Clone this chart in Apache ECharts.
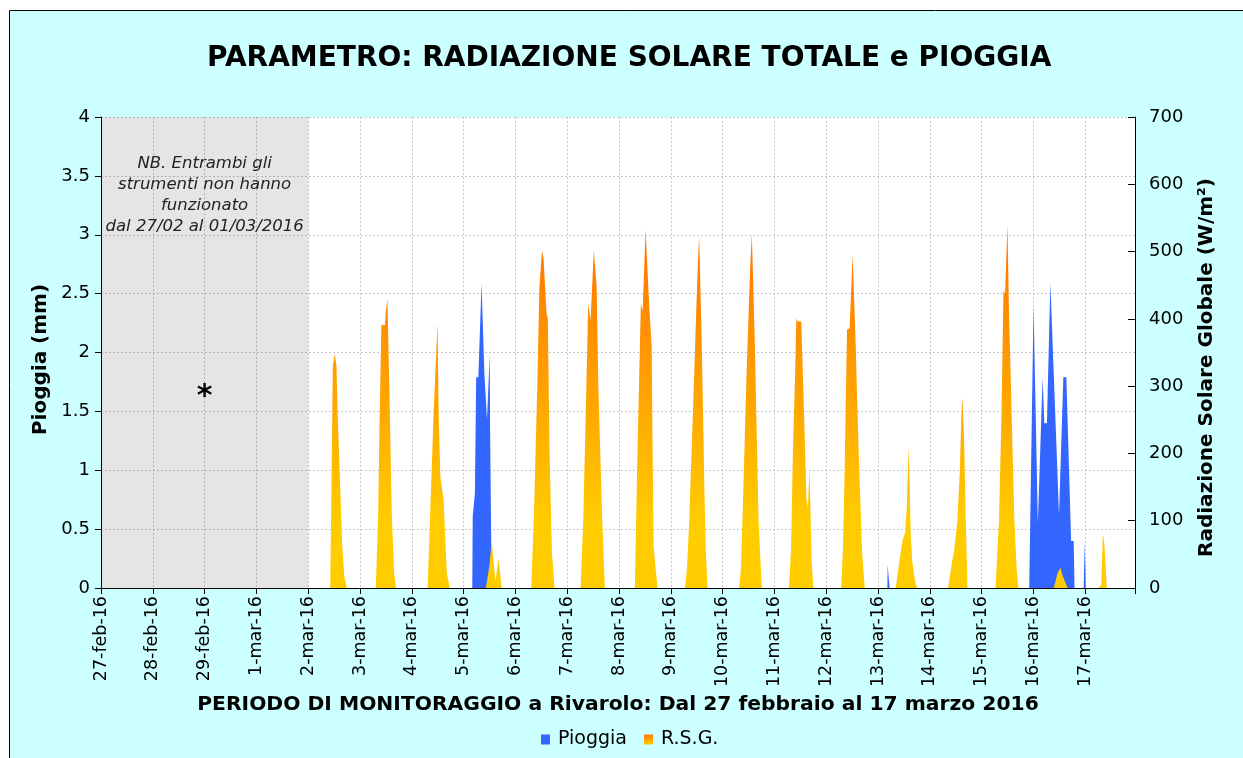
<!DOCTYPE html>
<html><head><meta charset="utf-8">
<script src="https://cdn.jsdelivr.net/npm/echarts@6/dist/echarts.min.js"></script>
<style>html,body{margin:0;padding:0;background:#fff;} #c{width:1243px;height:758px;}</style>
</head><body><div id="c"></div><script>
const tickLabels = ['27-feb-16','28-feb-16','29-feb-16','1-mar-16','2-mar-16','3-mar-16','4-mar-16','5-mar-16','6-mar-16','7-mar-16','8-mar-16','9-mar-16','10-mar-16','11-mar-16','12-mar-16','13-mar-16','14-mar-16','15-mar-16','16-mar-16','17-mar-16'];

// R.S.G. (W/m2): per day, hour of day and value
const rsgDays = ['2-mar-16','3-mar-16','4-mar-16','5-mar-16','6-mar-16','7-mar-16','8-mar-16','9-mar-16','10-mar-16','11-mar-16','12-mar-16','13-mar-16','14-mar-16','15-mar-16','16-mar-16','17-mar-16'];
const rsgHours = [
  [10.2,11.4,12.3,13.1,13.6,14.7,15.8,16.7,17.9],
  [7.3,8.4,9.1,9.9,11.5,11.9,12.7,13.8,14.7,15.8,16.7],
  [7.3,8.5,10.1,10.7,11.9,12.4,13.2,14.7,16.2,17.6],
  [10.3,12.0,13.0,14.7,16.2,17.6],
  [7.3,8.5,10.1,11.1,12.3,13.0,14.4,15.0,15.8,16.9,18.1],
  [6.2,7.4,8.5,9.7,10.2,10.8,12.3,13.6,14.4,16.2,17.4],
  [7.3,8.5,10.1,10.9,12.3,13.2,13.9,15.1,15.4,16.0,17.8],
  [6.5,7.5,8.5,10.1,11.6,12.7,13.1,14.4,15.5,16.2,17.0],
  [7.6,8.5,9.6,11.1,12.7,13.5,15.0,16.6,18.1],
  [6.7,7.7,8.5,9.6,10.1,10.6,12.4,13.6,14.8,15.5,16.2,17.2,18.0],
  [6.9,7.7,8.4,9.6,10.8,12.2,13.5,15.0,16.6,17.8],
  [8.2,9.3,11.3,12.5,13.3,14.1,14.6,15.1,15.8,17.0,18.0],
  [8.4,10.4,11.2,12.7,13.8,14.7,15.0,15.8,16.6,17.4],
  [6.4,8.0,9.1,10.1,10.8,11.9,12.7,13.3,15.1,16.2,17.0],
  [9.3,10.1,11.1,12.4,13.6,15.8],
  [6.2,7.4,8.1,8.8,9.5,9.9]
];
const rsgValues = [
  [0,330,348,329,260,160,61,17,0],
  [0,111,260,391,391,410,429,260,111,22,0],
  [0,111,262,262,393,262,165,131,22,0],
  [0,35,69,10,44,0],
  [0,101,299,448,501,490,408,400,200,52,0],
  [0,101,250,423,423,398,502,448,299,101,0],
  [0,200,423,411,533,470,423,359,250,61,0],
  [0,30,101,250,398,498,522,349,151,52,0],
  [0,30,151,324,473,527,349,101,0],
  [0,60,200,324,401,396,396,270,131,120,178,40,0],
  [0,60,160,384,386,495,373,200,52,0],
  [0,27,71,82,121,210,150,80,40,12,0],
  [0,42,55,100,171,269,284,225,101,0],
  [0,101,250,443,437,539,398,330,101,27,0],
  [0,9,22,30,17,0],
  [0,5,81,66,27,0]
];

// Pioggia (mm): per day, hour of day and value
const rainDays = ['5-mar-16','13-mar-16','16-mar-16'];
const rainHours = [
  [4.0,4.2,5.2,5.8,6.8,8.3,9.6,10.8,11.1,12.1,12.2,12.9,13.0],
  [4.3,4.4,5.2,5.3],
  [-2.0,0,0.9,2.0,4.2,5.0,6.2,7.8,11.8,13.8,15.2,17.4,18.6,19.0,23.2,23.7,24.2]
];
const rainValues = [
  [0,0.61,0.80,1.79,1.79,2.59,1.82,1.43,1.43,1.99,1.43,1.43,0],
  [0,0.2,0.2,0],
  [0,2.4,2.4,0.55,1.79,1.40,1.40,2.59,0.62,1.79,1.79,0.40,0.40,0,0,0.39,0]
];

const noteText = 'NB. Entrambi gli\nstrumenti non hanno\nfunzionato\ndal 27/02 al 01/03/2016';

function build(days, hours, values) {
  const out = [];
  days.forEach((d, i) => {
    const base = tickLabels.indexOf(d) * 24;
    hours[i].forEach((h, j) => out.push([base + h, values[i][j]]));
  });
  out.sort((a, b) => a[0] - b[0]);
  return out;
}

const FONT = '"DejaVu Sans", "Liberation Sans", sans-serif';
const chart = echarts.init(document.getElementById('c'), null, {renderer: 'canvas'});
const gridTop = 117, gridBottomY = 588;

chart.setOption({
  animation: false,
  backgroundColor: '#ffffff',
  textStyle: {fontFamily: FONT, color: '#000'},
  graphic: [{
    type: 'rect', z: -100, silent: true,
    shape: {x: 9.5, y: 10.5, width: 1300, height: 800},
    style: {fill: '#ccffff', stroke: '#000', lineWidth: 1}
  }],
  title: {
    text: 'PARAMETRO: RADIAZIONE SOLARE TOTALE e PIOGGIA',
    left: 207, top: 45, padding: 0,
    textStyle: {fontFamily: FONT, fontSize: 28, fontWeight: 'bold', color: '#000'}
  },
  legend: {
    bottom: 9, left: 541, padding: 0,
    icon: 'rect', itemWidth: 9, itemHeight: 10, itemGap: 17,
    textStyle: {fontFamily: FONT, fontSize: 19, color: '#000', padding: [0, 0, 0, 3]},
    data: [
      {name: 'Pioggia', itemStyle: {color: '#3366ff'}},
      {name: 'R.S.G.', itemStyle: {color: {type: 'linear', x: 0, y: 0, x2: 0, y2: 1, colorStops: [{offset: 0, color: '#ff7700'}, {offset: 1, color: '#ffcc00'}]}}}
    ]
  },
  grid: {left: 101, top: gridTop, right: 108, bottom: 758 - gridBottomY, show: true, backgroundColor: '#ffffff', borderWidth: 0},
  xAxis: {
    type: 'value', min: 0, max: 19 * 24 + 23, interval: 24,
    name: 'PERIODO DI MONITORAGGIO a Rivarolo: Dal 27 febbraio al 17 marzo 2016',
    nameLocation: 'middle', nameGap: 92,
    nameTextStyle: {fontFamily: FONT, fontSize: 20.3, fontWeight: 'bold', color: '#000'},
    axisLine: {show: true, onZero: false, lineStyle: {color: '#000', width: 1}},
    axisTick: {show: true, inside: false, length: 6, lineStyle: {color: '#000'}},
    axisLabel: {
      rotate: 90, margin: 8, fontFamily: FONT, fontSize: 17.5, color: '#000',
      formatter: v => { const i = Math.round(v / 24); return (Math.abs(v - i * 24) < 0.01 && tickLabels[i]) ? tickLabels[i] : ''; }
    },
    splitLine: {show: true, lineStyle: {color: '#c8c8c8', type: [2, 2], width: 1}}
  },
  yAxis: [{
    type: 'value', min: 0, max: 4, interval: 0.5, position: 'left',
    name: 'Pioggia (mm)', nameLocation: 'middle', nameGap: 50, nameRotate: 90,
    nameTextStyle: {fontFamily: FONT, fontSize: 20, fontWeight: 'bold', color: '#000', padding: [0, 14, 0, 0]},
    axisLine: {show: true, lineStyle: {color: '#000', width: 1}},
    axisTick: {show: true, inside: false, length: 6, lineStyle: {color: '#000'}},
    axisLabel: {margin: 11, fontFamily: FONT, fontSize: 18, color: '#000'},
    splitLine: {show: true, lineStyle: {color: '#c8c8c8', type: [2, 2], width: 1}}
  }, {
    type: 'value', min: 0, max: 700, interval: 100, position: 'right',
    name: 'Radiazione Solare Globale (W/m²)', nameLocation: 'middle', nameGap: 62, nameRotate: 90,
    nameTextStyle: {fontFamily: FONT, fontSize: 20, fontWeight: 'bold', color: '#000', padding: [0, 30, 0, 0]},
    axisLine: {show: true, lineStyle: {color: '#000', width: 1}},
    axisTick: {show: true, inside: true, length: 7, lineStyle: {color: '#000'}},
    axisLabel: {margin: 14, fontFamily: FONT, fontSize: 18, color: '#000'},
    splitLine: {show: false}
  }],
  series: [{
    name: 'Pioggia', type: 'line', xAxisIndex: 0, yAxisIndex: 0,
    data: build(rainDays, rainHours, rainValues),
    symbol: 'none', showSymbol: false, silent: true, z: 2,
    itemStyle: {color: '#3366ff'},
    lineStyle: {width: 0, color: '#3366ff'},
    areaStyle: {color: '#3366ff', opacity: 1},
    markArea: {
      silent: true,
      itemStyle: {color: 'rgba(0,0,0,0.1)'},
      label: {show: true, position: 'insideTop', distance: 36, formatter: noteText,
        fontFamily: FONT, fontStyle: 'italic', fontSize: 16.5, lineHeight: 21, color: '#222', align: 'center'},
      data: [[{xAxis: 0}, {xAxis: 4 * 24}]]
    },
    markPoint: {
      silent: true, symbol: 'circle', symbolSize: 1,
      itemStyle: {color: 'rgba(0,0,0,0)'},
      label: {show: true, position: 'inside', formatter: '*', fontFamily: FONT, fontSize: 30, fontWeight: 'bold', color: '#000'},
      data: [{coord: [2 * 24, 1.62]}]
    }
  }, {
    name: 'R.S.G.', type: 'line', xAxisIndex: 0, yAxisIndex: 1,
    data: build(rsgDays, rsgHours, rsgValues),
    symbol: 'none', showSymbol: false, silent: true, z: 3,
    itemStyle: {color: '#ff8000'},
    lineStyle: {width: 0, color: '#ff8000'},
    areaStyle: {opacity: 1, color: {type: 'linear', x: 0, y: gridTop, x2: 0, y2: gridBottomY, global: true,
      colorStops: [{offset: 0, color: '#ff6a00'}, {offset: 0.3, color: '#ff7a00'}, {offset: 0.86, color: '#ffcc00'}, {offset: 1, color: '#ffcc00'}]}}
  }]
});
</script></body></html>
